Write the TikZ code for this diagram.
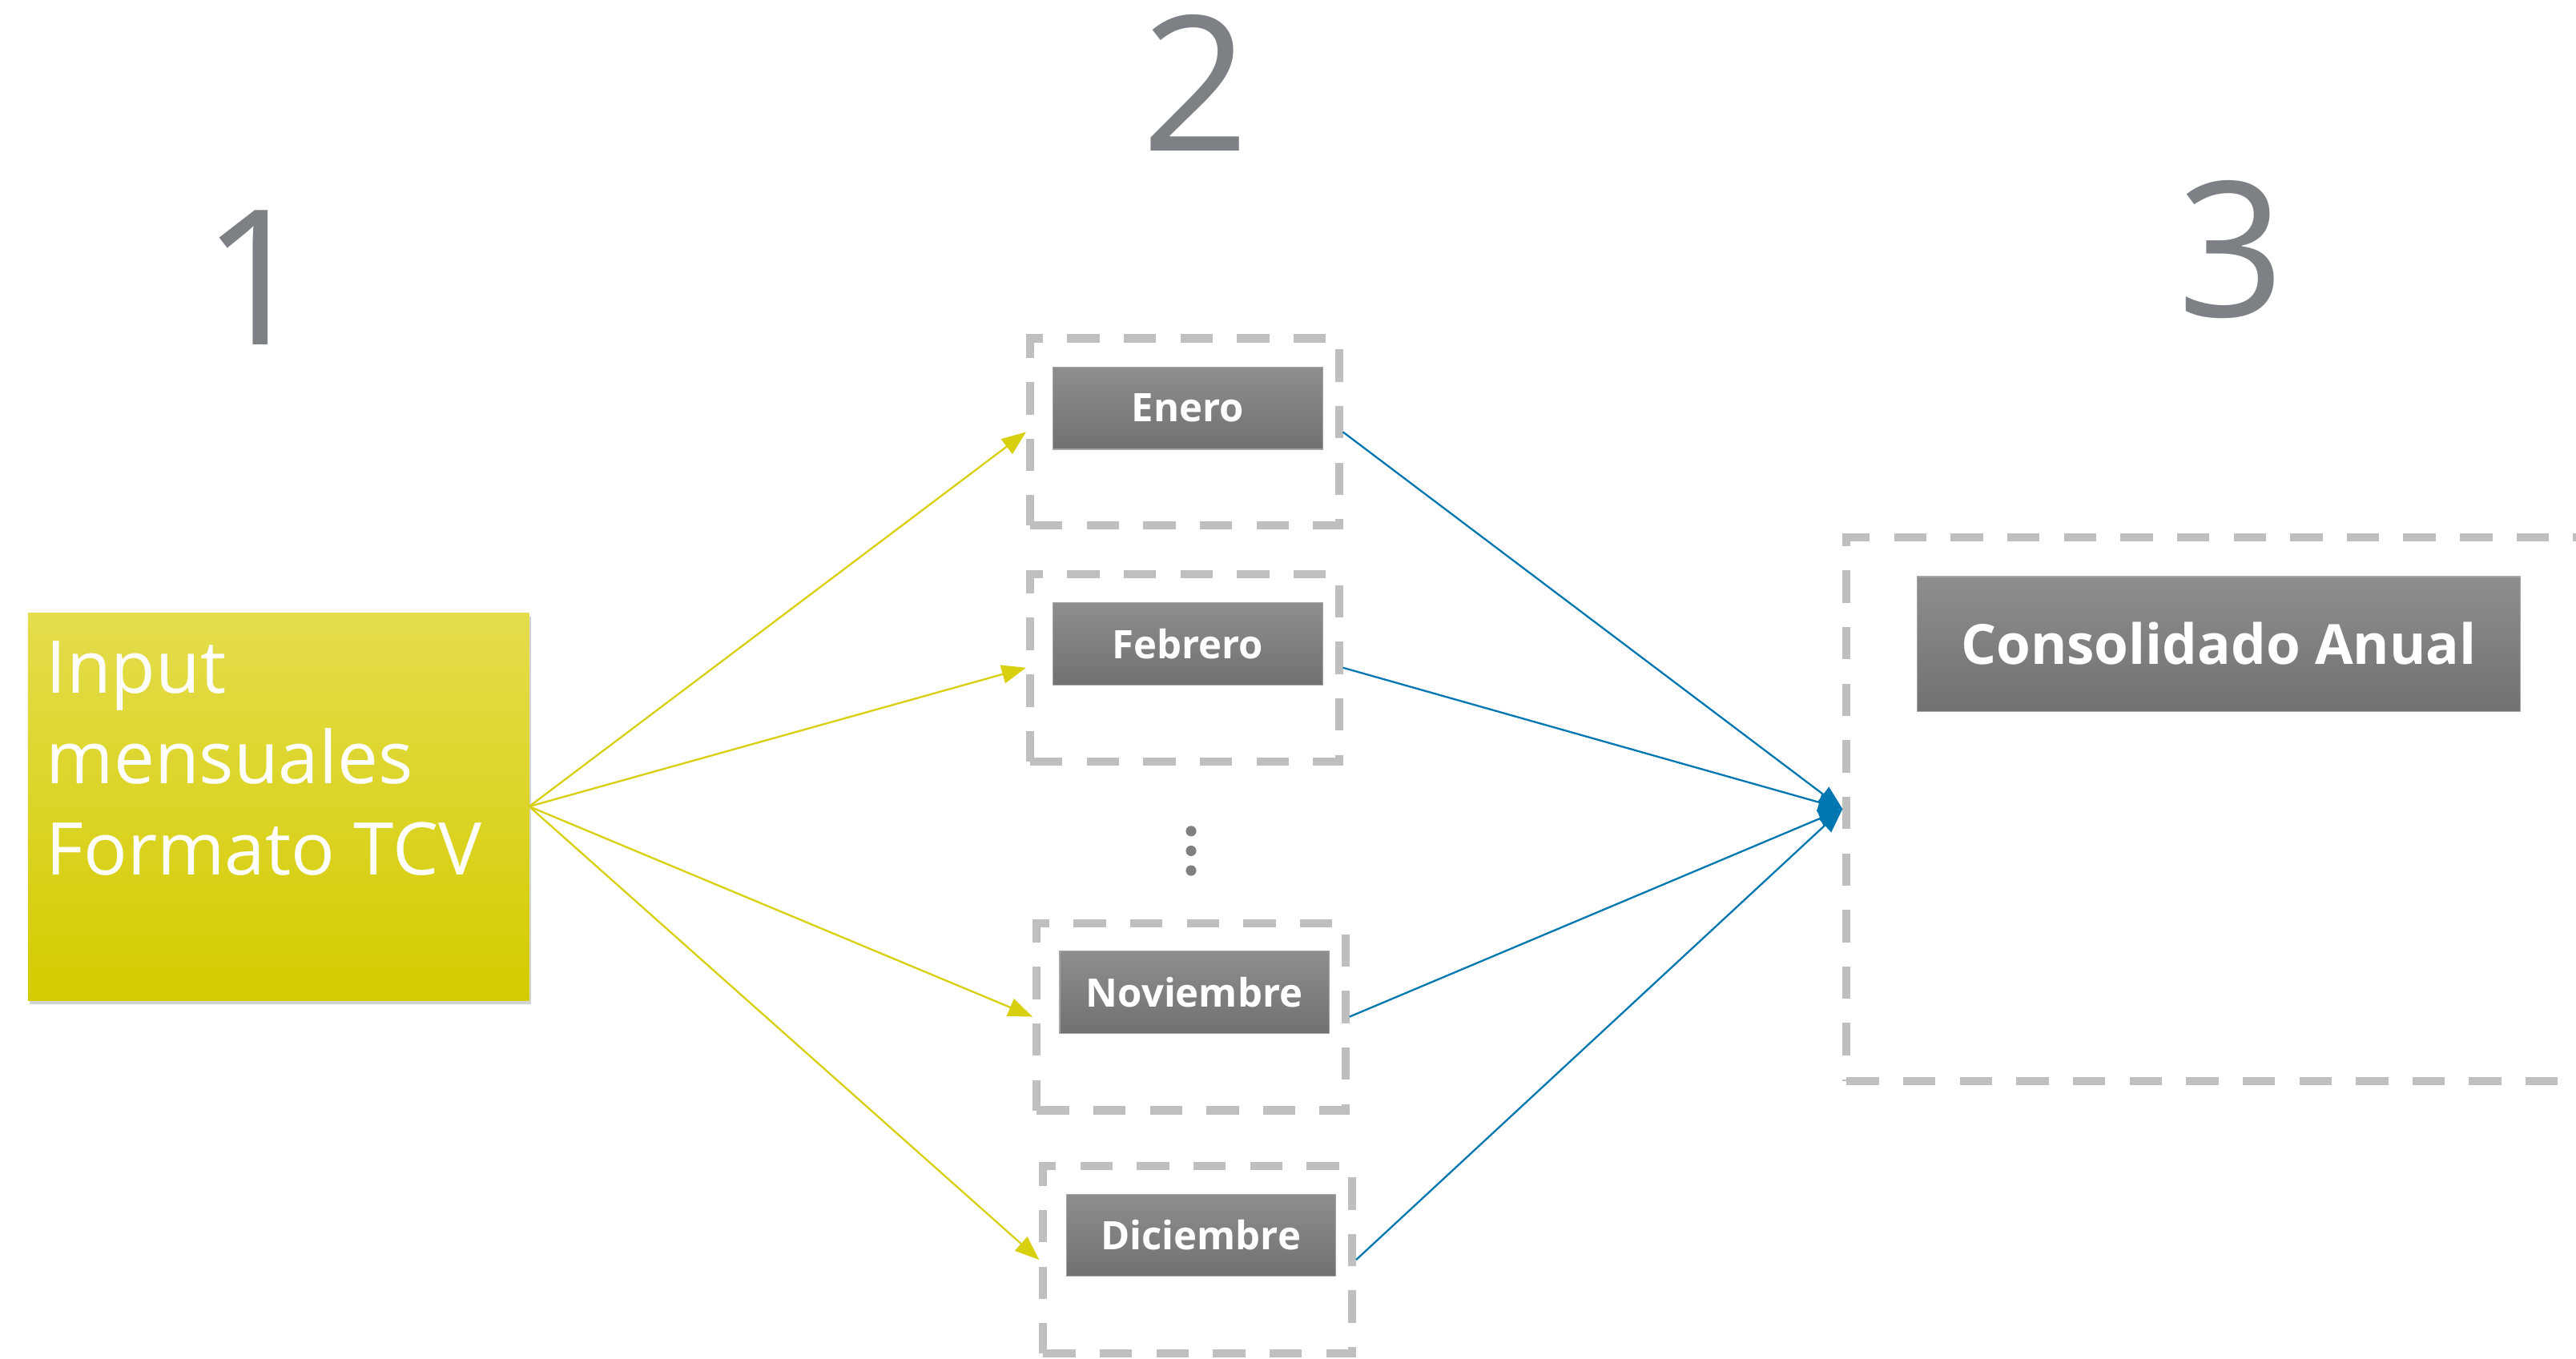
\documentclass[tikz,border=0pt]{standalone}
\usepackage{fontspec}
\setmainfont{Open Sans}
\usetikzlibrary{arrows.meta,shadows}
\definecolor{dashgray}{HTML}{BFBFBF}
\definecolor{ylw}{HTML}{D8D00F}
\definecolor{ylwtop}{HTML}{E4DD4C}
\definecolor{ylwbot}{HTML}{D4CB00}
\definecolor{blu}{HTML}{0077B0}
\definecolor{digitgray}{HTML}{7D8085}
\definecolor{boxtop}{HTML}{8E8E8E}
\definecolor{boxbot}{HTML}{717171}
\tikzset{
  dashbox/.style={draw=dashgray, line width=7pt, dash pattern=on 28pt off 21pt, minimum width=9.4cm, minimum height=5.7cm, inner sep=0pt},
  monthbox/.style={top color=boxtop, bottom color=boxbot, draw=boxtop!80!white, line width=0.8pt, minimum width=8.2cm, minimum height=2.5cm, inner sep=0pt, text=white, font=\bfseries\fontsize{34}{34}\selectfont},
  digit/.style={anchor=base, text=digitgray, font=\fontsize{163}{163}\selectfont, inner sep=0pt},
  yarrow/.style={draw=ylw, line width=1.6pt, -{Triangle[length=21pt,width=16pt]}},
  barrow/.style={draw=blu, line width=1.6pt, -{Triangle[length=21pt,width=16pt]}},
  dotstyle/.style={circle, fill=gray, minimum size=0.32cm, inner sep=0pt}
}
\begin{document}
\begin{tikzpicture}[x=0.05cm,y=-0.05cm]
\useasboundingbox (0,0) rectangle (1568,827);
\clip (0,0) rectangle (1568,827);
% digits
\node[digit] (n1) at (156,210) {1};
\node[digit] (n2) at (728,92) {2};
\node[digit] (n3) at (1358,193) {3};
% input box
\node[top color=ylwtop, bottom color=ylwbot, minimum width=15.25cm, minimum height=11.8cm, inner sep=0pt,
      drop shadow={opacity=0.35, shadow xshift=0.06cm, shadow yshift=-0.12cm}] (inp) at (169.5,491) {};
\node[anchor=north west, align=left, text=white, inner sep=0pt, font=\fontsize{63}{79}\selectfont] (inptext) at (28,390) {Input\\mensuales\\Formato TCV};
% month dashed boxes
\node[dashbox] (d1) at (721,263) {};
\node[dashbox] (d2) at (721,406.5) {};
\node[dashbox] (d3) at (725,619) {};
\node[dashbox] (d4) at (729,767) {};
\node[monthbox] (b1) at (723,248.5) {Enero};
\node[monthbox] (b2) at (723,392) {Febrero};
\node[monthbox] (b3) at (727,604) {Noviembre};
\node[monthbox] (b4) at (731,752) {Diciembre};
% dots
\node[dotstyle] (p1) at (725,506) {};
\node[dotstyle] (p2) at (725,518) {};
\node[dotstyle] (p3) at (725,530) {};
% consolidated
\node[dashbox, minimum width=24.8cm, minimum height=16.55cm] (dc) at (1372,492.5) {};
\node[monthbox, minimum width=18.35cm, minimum height=4.1cm, font=\bfseries\fontsize{48}{48}\selectfont] (bc) at (1350.5,392) {Consolidado Anual};
% connectors
\draw[yarrow] (inp.east) -- (d1.west);
\draw[yarrow] (inp.east) -- (d2.west);
\draw[yarrow] (inp.east) -- (d3.west);
\draw[yarrow] (inp.east) -- (d4.west);
\draw[barrow] (d1.east) -- (dc.west);
\draw[barrow] (d2.east) -- (dc.west);
\draw[barrow] (d3.east) -- (dc.west);
\draw[barrow] (d4.east) -- (dc.west);
\end{tikzpicture}
\end{document}
